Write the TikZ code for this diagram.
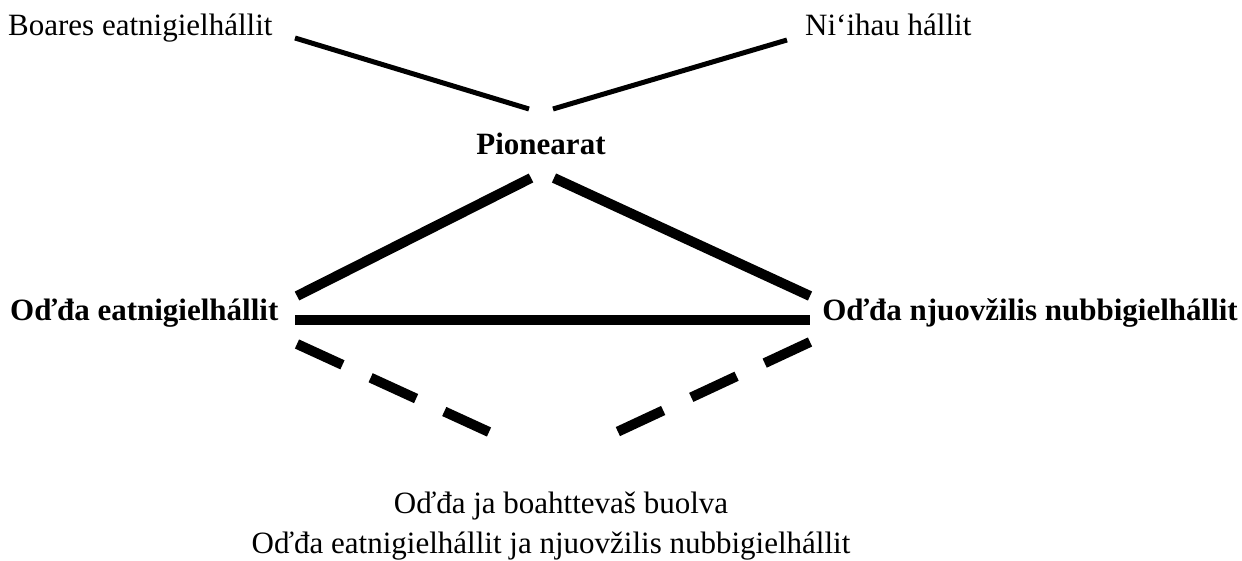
\documentclass[tikz,border=0pt]{standalone}
\usepackage{fontspec}
\setmainfont{Liberation Serif}
\usepackage{tikz}

\tikzset{
    lbl/.style={inner sep=0pt, font=\fontsize{31}{37}\selectfont},
    boldlbl/.style={lbl, font=\fontsize{31}{37}\selectfont\bfseries},
    thinlink/.style={line width=5pt},
    thicklink/.style={line width=10pt},
    dashlink/.style={line width=10pt, dash pattern=on 50pt off 31pt}
}

\begin{document}
\begin{tikzpicture}[x=1pt,y=-1pt]
    \useasboundingbox (0,0) rectangle (1242,561);

    % Labels
    \node[lbl, anchor=base west] (boares) at (8,36) {Boares eatnigielhállit};
    \node[lbl, anchor=base west] (niihau) at (805,36) {Ni‘ihau hállit};
    \node[boldlbl, anchor=base] (pionearat) at (541,155) {Pionearat};
    \node[boldlbl, anchor=base west] (oddaeat) at (10,320) {Oďđa eatnigielhállit};
    \node[boldlbl, anchor=base east] (oddanjuo) at (1238,320) {Oďđa njuovžilis nubbigielhállit};
    \node[lbl, anchor=base] (buolva) at (561,513) {Oďđa ja boahttevaš buolva};
    \node[lbl, anchor=base] (goabbat) at (551,553) {Oďđa eatnigielhállit ja njuovžilis nubbigielhállit};

    % End points of the lines
    \coordinate (boaresEnd) at (295,38);
    \coordinate (niihauEnd) at (787,40);
    \coordinate (pionTopL) at (529,109);
    \coordinate (pionTopR) at (553,109);
    \coordinate (pionBotL) at (531,178);
    \coordinate (pionBotR) at (554,178);
    \coordinate (eatTop) at (297,296);
    \coordinate (njuoTop) at (810,296);
    \coordinate (eatMid) at (295,320);
    \coordinate (njuoMid) at (810,320);
    \coordinate (eatLow) at (297,344);
    \coordinate (njuoLow) at (810,342);
    \coordinate (buolvaL) at (489,432);
    \coordinate (buolvaR) at (617,432);

    % Thin lines to the pioneers
    \draw[thinlink] (boaresEnd) -- (pionTopL);
    \draw[thinlink] (niihauEnd) -- (pionTopR);

    % Thick triangle
    \draw[thicklink] (pionBotL) -- (eatTop);
    \draw[thicklink] (pionBotR) -- (njuoTop);
    \draw[thicklink] (eatMid) -- (njuoMid);

    % Dashed lines to the new generation
    \draw[dashlink] (eatLow) -- (buolvaL);
    \draw[dashlink] (njuoLow) -- (buolvaR);
\end{tikzpicture}
\end{document}
